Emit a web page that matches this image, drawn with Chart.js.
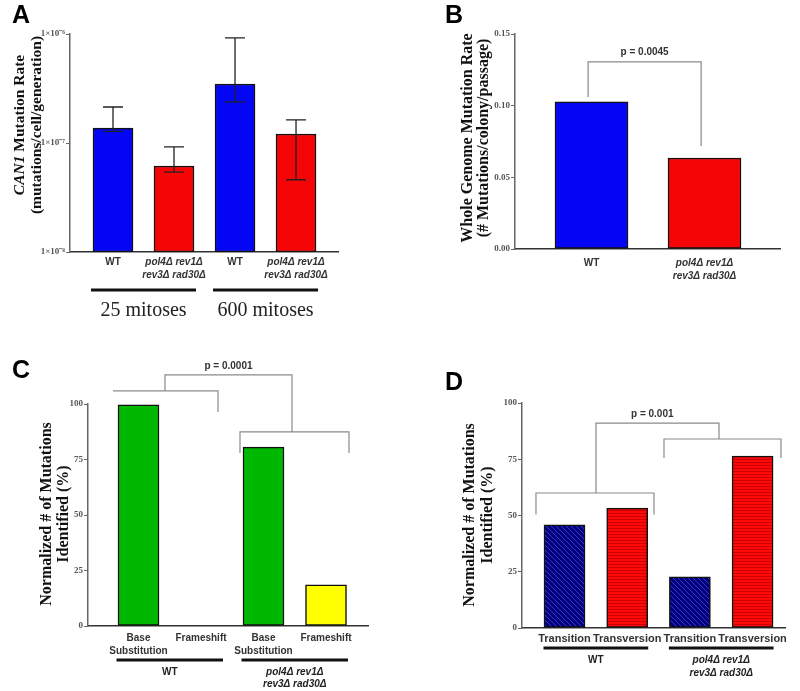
<!DOCTYPE html>
<html>
<head>
<meta charset="utf-8">
<script src="https://cdn.jsdelivr.net/npm/chart.js@4.4.0/dist/chart.umd.min.js"></script>
<style>
  body { margin: 0; background: #fff; }
  #wrap { position: relative; width: 800px; height: 691px; }
  canvas { position: absolute; }
</style>
</head>
<body>
<div id="wrap">
  <canvas id="chartA" width="400" height="330" style="left:0;top:0"></canvas>
  <canvas id="chartB" width="400" height="330" style="left:400px;top:0"></canvas>
  <canvas id="chartC" width="400" height="361" style="left:0;top:330px"></canvas>
  <canvas id="chartD" width="400" height="361" style="left:400px;top:330px"></canvas>
</div>

<script>
    var MUT = ['pol4Δ rev1Δ', 'rev3Δ rad30Δ'];

    // Panel A : CAN1 mutation rate (log scale) with error bars
    var aPositions = [1, 2, 3, 4];
    var aLabels = [['WT'], MUT, ['WT'], MUT];
    var aRates = [1.37e-7, 6.15e-8, 3.48e-7, 1.21e-7];
    var aErrHigh = [2.14e-7, 9.2e-8, 9.2e-7, 1.63e-7];
    var aErrLow = [1.28e-7, 5.4e-8, 2.38e-7, 4.6e-8];
    var aTicks = [1e-8, 1e-7, 1e-6];
    var aTickLabels = ['1×10⁻⁸', '1×10⁻⁷', '1×10⁻⁶'];
    var aGroups = [[1, 2, ['25 mitoses']], [3, 4, ['600 mitoses']]];

    // Panel B : whole genome mutation rate
    var bPositions = [1, 2];
    var bLabels = [['WT'], MUT];
    var bRates = [0.1026, 0.0635];
    var bTicks = [0, 0.05, 0.10, 0.15];
    var bBrackets = [[0.97, 1.97, 0.1305, 0.106, 0.0719]];
    var bPvalue = ['p = 0.0045', 1.47, 0.137];

    // Panel C : base substitution / frameshift
    var cPositions = [1, 2, 3, 4];
    var cLabels = [['Base', 'Substitution'], ['Frameshift'], ['Base', 'Substitution'], ['Frameshift']];
    var cValues = [99.6, 0, 80.6, 18.5];
    var cTicks = [0, 25, 50, 75, 100];
    var cGroups = [[1, 2, ['WT']], [3, 4, MUT]];
    var cBrackets = [
        [0.592, 2.272, 105.9, 105.9, 96.4],
        [2.624, 4.368, 87.4, 77.9, 77.9],
        [1.424, 3.456, 113.1, 105.9, 87.4]
    ];
    var cPvalue = ['p = 0.0001', 2.44, 117.2];

    // Panel D : transition / transversion
    var dPositions = [1, 2, 3, 4];
    var dLabels = ['Transition', 'Transversion', 'Transition', 'Transversion'];
    var dValues = [45.8, 53.3, 22.7, 76.4];
    var dTicks = [0, 25, 50, 75, 100];
    var dGroups = [[1, 2, ['WT']], [3, 4, MUT]];
    var dBrackets = [
        [0.545, 2.427, 60.0, 50.5, 50.5],
        [2.587, 4.453, 84.0, 75.6, 75.6],
        [1.502, 3.464, 91.1, 60.0, 84.0]
    ];
    var dPvalue = ['p = 0.001', 2.40, 95.1];

    Chart.defaults.font.family = '"Liberation Sans", Arial, sans-serif';
    var SERIF = '"Liberation Serif", "Times New Roman", serif';

    // motifs hachurés du panneau D
    function hatch(bg, fg, diagonal) {
        var c = document.createElement('canvas');
        c.width = 5; c.height = diagonal ? 5 : 3;
        var g = c.getContext('2d');
        g.fillStyle = bg; g.fillRect(0, 0, c.width, c.height);
        g.strokeStyle = fg; g.lineWidth = 1;
        g.beginPath();
        if (diagonal) {
            [-5, 0, 5].forEach(function(k) { g.moveTo(-1, -1 + k); g.lineTo(6, 6 + k); });
        } else {
            g.moveTo(0, 0.5); g.lineTo(5, 0.5);
        }
        g.stroke();
        return g.createPattern(c, 'repeat');
    }

    // texte vertical (titre d'axe), parts = [[texte, italique]]
    function vText(ctx, x, y, parts, size) {
        ctx.save();
        ctx.translate(x, y);
        ctx.rotate(-Math.PI / 2);
        ctx.fillStyle = '#111';
        ctx.textBaseline = 'middle';
        ctx.textAlign = 'left';
        var fonts = parts.map(function(p) { return (p[1] ? 'italic ' : '') + 'bold ' + size + 'px ' + SERIF; });
        var total = 0;
        parts.forEach(function(p, i) { ctx.font = fonts[i]; total += ctx.measureText(p[0]).width; });
        var cx = -total / 2;
        parts.forEach(function(p, i) {
            ctx.font = fonts[i];
            ctx.fillText(p[0], cx, 0);
            cx += ctx.measureText(p[0]).width;
        });
        ctx.restore();
    }

    function letter(ctx, txt, x, y) {
        ctx.save();
        ctx.font = 'bold 25px "Liberation Sans", Arial';
        ctx.fillStyle = '#000';
        ctx.fillText(txt, x, y);
        ctx.restore();
    }

    function drawBrackets(chart, list, p) {
        var ctx = chart.ctx, xs = chart.scales.x, ys = chart.scales.y;
        ctx.save();
        ctx.strokeStyle = '#8a8a8a';
        ctx.lineWidth = 1.2;
        list.forEach(function(b) {
            var x1 = xs.getPixelForValue(b[0]), x2 = xs.getPixelForValue(b[1]), y = ys.getPixelForValue(b[2]);
            ctx.beginPath();
            ctx.moveTo(x1, ys.getPixelForValue(b[3]));
            ctx.lineTo(x1, y);
            ctx.lineTo(x2, y);
            ctx.lineTo(x2, ys.getPixelForValue(b[4]));
            ctx.stroke();
        });
        ctx.font = 'bold 10px "Liberation Sans", Arial';
        ctx.fillStyle = '#333';
        ctx.textAlign = 'center';
        ctx.textBaseline = 'middle';
        ctx.fillText(p[0], xs.getPixelForValue(p[1]), ys.getPixelForValue(p[2]));
        ctx.restore();
    }

    // traits noirs sous les groupes + étiquettes
    function drawGroups(chart, groups, lineY, textY, gap, ext, fontFn) {
        var ctx = chart.ctx, xs = chart.scales.x;
        ctx.save();
        ctx.strokeStyle = '#111';
        ctx.fillStyle = '#222';
        ctx.lineWidth = 3;
        ctx.textAlign = 'center';
        ctx.textBaseline = 'middle';
        groups.forEach(function(g) {
            var x1 = xs.getPixelForValue(g[0]) - ext, x2 = xs.getPixelForValue(g[1]) + ext;
            ctx.beginPath(); ctx.moveTo(x1, lineY); ctx.lineTo(x2, lineY); ctx.stroke();
            ctx.font = fontFn(g[2]);
            g[2].forEach(function(t, k) { ctx.fillText(t, (x1 + x2) / 2, textY + k * gap); });
        });
        ctx.restore();
    }

    function groupFont(lines) {
        return (lines === MUT ? 'italic ' : '') + 'bold 10px "Liberation Sans", Arial';
    }

    function makeChart(id, o) {
        var canvas = document.getElementById(id);
        var W = canvas.width, H = canvas.height;
        return new Chart(canvas, {
            type: 'bar',
            data: {
                datasets: [{
                    data: o.pos.map(function(p, i) { return { x: p, y: o.values[i] }; }),
                    backgroundColor: o.colors,
                    borderColor: '#111',
                    borderWidth: 1.5,
                    borderSkipped: false,
                    barThickness: o.barWidth
                }]
            },
            options: {
                responsive: false,
                animation: false,
                layout: { padding: { left: 0, top: o.area[1], right: W - o.area[2], bottom: 0 } },
                plugins: { legend: { display: false }, tooltip: { enabled: false } },
                scales: {
                    x: {
                        type: 'linear', min: o.xmin, max: o.xmax, offset: false,
                        grid: { display: false, drawTicks: false },
                        border: { color: '#333', width: 1.5 },
                        afterBuildTicks: function(s) { s.ticks = o.pos.map(function(v) { return { value: v }; }); },
                        afterFit: function(s) { s.height = H - o.area[3]; },
                        ticks: {
                            autoSkip: false, maxRotation: 0, padding: o.labelPad, color: '#333',
                            callback: function(v, i) { return o.labels[i]; },
                            font: function(c) {
                                return { size: o.labelSize, weight: 'bold', lineHeight: 1.3,
                                         style: o.labels[c.index] === MUT ? 'italic' : 'normal' };
                            }
                        }
                    },
                    y: {
                        type: o.log ? 'logarithmic' : 'linear', min: o.ymin, max: o.ymax,
                        grid: { drawOnChartArea: false, drawTicks: true, tickLength: 4, color: '#666' },
                        border: { color: '#666', width: 1.5 },
                        afterBuildTicks: function(s) { s.ticks = o.yticks.map(function(v) { return { value: v }; }); },
                        afterFit: function(s) { s.width = o.area[0]; },
                        ticks: {
                            padding: 1, color: '#555',
                            font: { family: SERIF, size: 9, weight: 'bold' },
                            callback: o.yLabel
                        }
                    }
                }
            },
            plugins: [o.extra]
        });
    }

    var blue = '#0505f5', red = '#f50505';

    makeChart('chartA', {
        pos: aPositions, values: aRates, labels: aLabels,
        colors: [blue, red, blue, red], barWidth: 40,
        area: [70, 34, 338, 252], xmin: 0.295, xmax: 4.688,
        labelPad: 4, labelSize: 10,
        log: true, ymin: 1e-8, ymax: 1e-6, yticks: aTicks,
        yLabel: function(v, i) { return aTickLabels[i]; },
        extra: {
            id: 'extraA',
            afterDatasetsDraw: function(chart) {
                var ctx = chart.ctx, xs = chart.scales.x, ys = chart.scales.y;
                ctx.save();
                ctx.strokeStyle = '#222';
                ctx.lineWidth = 1.3;
                aPositions.forEach(function(p, i) {
                    var x = xs.getPixelForValue(p), yh = ys.getPixelForValue(aErrHigh[i]), yl = ys.getPixelForValue(aErrLow[i]);
                    ctx.beginPath();
                    ctx.moveTo(x, yh); ctx.lineTo(x, yl);
                    ctx.moveTo(x - 10, yh); ctx.lineTo(x + 10, yh);
                    ctx.moveTo(x - 10, yl); ctx.lineTo(x + 10, yl);
                    ctx.stroke();
                });
                ctx.restore();
            },
            afterDraw: function(chart) {
                var ctx = chart.ctx;
                letter(ctx, 'A', 12, 23);
                vText(ctx, 20, 125, [['CAN1', true], [' Mutation Rate', false]], 15.5);
                vText(ctx, 37, 125, [['(mutations/cell/generation)', false]], 15.5);
                drawGroups(chart, aGroups, 290, 311, 0, 22, function() { return '20px ' + SERIF; });
            }
        }
    });

    makeChart('chartB', {
        pos: bPositions, values: bRates, labels: bLabels,
        colors: [blue, red], barWidth: 73,
        area: [115, 34, 380, 249], xmin: 0.323, xmax: 2.668,
        labelPad: 7.5, labelSize: 10,
        log: false, ymin: 0, ymax: 0.15, yticks: bTicks,
        yLabel: function(v) { return v.toFixed(2); },
        extra: {
            id: 'extraB',
            afterDraw: function(chart) {
                var ctx = chart.ctx;
                letter(ctx, 'B', 45, 23);
                vText(ctx, 68, 138, [['Whole Genome Mutation Rate', false]], 16);
                vText(ctx, 84, 138, [['(# Mutations/colony/passage)', false]], 16);
                drawBrackets(chart, bBrackets, bPvalue);
            }
        }
    });

    makeChart('chartC', {
        pos: cPositions, values: cValues, labels: cLabels,
        colors: ['#00b800', '#00b800', '#00b800', '#ffff00'], barWidth: 41,
        area: [88, 74, 368, 296], xmin: 0.192, xmax: 4.672,
        labelPad: 5.5, labelSize: 10,
        log: false, ymin: 0, ymax: 100, yticks: cTicks,
        yLabel: function(v) { return String(v); },
        extra: {
            id: 'extraC',
            afterDraw: function(chart) {
                var ctx = chart.ctx;
                letter(ctx, 'C', 12, 48);
                vText(ctx, 47, 184, [['Normalized # of Mutations', false]], 16);
                vText(ctx, 64, 184, [['Identified (%)', false]], 16);
                drawBrackets(chart, cBrackets, cPvalue);
                drawGroups(chart, cGroups, 330, 342, 12.5, 22, groupFont);
            }
        }
    });

    var navy = hatch('#00007c', '#3535c8', true);
    var redH = hatch('#ff0808', '#c80000', false);

    makeChart('chartD', {
        pos: dPositions, values: dValues, labels: dLabels,
        colors: [navy, redH, navy, redH], barWidth: 41,
        area: [122, 73, 385, 298], xmin: 0.322, xmax: 4.517,
        labelPad: 3.5, labelSize: 11,
        log: false, ymin: 0, ymax: 100, yticks: dTicks,
        yLabel: function(v) { return String(v); },
        extra: {
            id: 'extraD',
            afterDraw: function(chart) {
                var ctx = chart.ctx;
                letter(ctx, 'D', 45, 60);
                vText(ctx, 70, 185, [['Normalized # of Mutations', false]], 16);
                vText(ctx, 88, 185, [['Identified (%)', false]], 16);
                drawBrackets(chart, dBrackets, dPvalue);
                drawGroups(chart, dGroups, 318, 330, 13, 21, groupFont);
            }
        }
    });
</script>
</body>
</html>
